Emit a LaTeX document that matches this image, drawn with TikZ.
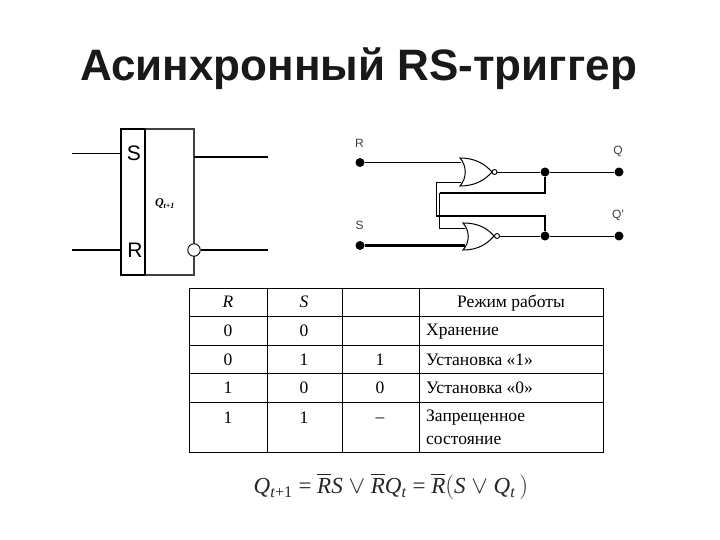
\documentclass[tikz,border=0pt]{standalone}
\usepackage{fontspec}
\setmainfont{Liberation Serif}
\newfontfamily\arialf{Liberation Sans}
\begin{document}
\begin{tikzpicture}[x=1pt,y=-1pt,
  thin line/.style={draw=black,line width=1.3pt},
  hair line/.style={draw=black,line width=0.9pt},
  thick line/.style={draw=black,line width=2.2pt},
  box line/.style={draw=black!75,line width=1.5pt},
  grid line/.style={draw=black,line width=1pt},
  pin/.style={circle,fill=black,inner sep=0pt,minimum size=9pt},
  bubble/.style={circle,draw=black,fill=white,line width=0.9pt,inner sep=0pt},
  title text/.style={font=\arialf\bfseries\fontsize{44}{48}\selectfont,text=black!90,inner sep=0pt},
  sym text/.style={font=\arialf\fontsize{21}{24}\selectfont,inner sep=0pt},
  pin text/.style={font=\arialf\fontsize{12}{14}\selectfont,text=black!75,inner sep=0pt},
  cell/.style={font=\fontsize{17.5}{22}\selectfont,inner sep=0pt},
  cell left/.style={cell,anchor=west},
  gate/.style={draw=black,line width=1pt,fill=white}]
\useasboundingbox (0,0) rectangle (720,540);
\fill[white] (0,0) rectangle (720,540);
\node[title text] (title) at (358.5,69) {Асинхронный RS-триггер};

% block symbol
\coordinate (bTL) at (121,129); \coordinate (bTM) at (145,129); \coordinate (bTR) at (194,129);
\coordinate (bBL) at (121,275); \coordinate (bBM) at (145,275); \coordinate (bBR) at (194,275);
\draw[box line] (bTM) -- (bTR) -- (bBR) -- (bBM);
\draw[thick line] (bBM) -- (bBL) -- (bTL) -- (bTM);
\draw[thin line] (bTM) -- (bBM);
\coordinate (inS) at (72,153.5); \coordinate (inSb) at (121,153.5);
\coordinate (inR) at (72,250); \coordinate (inRb) at (121,250);
\coordinate (outQb) at (194,157); \coordinate (outQ) at (268,157);
\coordinate (outNb) at (268,250);
\draw[thin line] (inS) -- (inSb);
\draw[thin line] (inR) -- (inRb);
\draw[thin line] (outQb) -- (outQ);
\node[bubble,minimum size=12.5pt] (nb) at (194,250) {};
\draw[thin line] (nb) -- (outNb);
\node[sym text] (symS) at (134,153) {S};
\node[sym text] (symR) at (135,250) {R};
\node[font=\bfseries\itshape\fontsize{12}{14}\selectfont,inner sep=0pt] (symQ) at (165,204) {Q\textsubscript{\textit{t}+1}};

% gate circuit
\node[pin] (pR) at (360,162.5) {};
\node[pin] (pS) at (360,245.5) {};
\node[pin] (j1) at (545,172) {};
\node[pin] (j2) at (545,236) {};
\node[pin] (pQ) at (619,172) {};
\node[pin] (pN) at (619,236) {};
\node[pin text] (lR) at (359.5,143) {R};
\node[pin text] (lS) at (359.5,225.5) {S};
\node[pin text] (lQ) at (618,151.5) {Q};
\node[pin text] (lN) at (618,215) {Q'};

\coordinate (g1r) at (461,163); \coordinate (g1s) at (461,182);
\coordinate (g2r) at (465,228); \coordinate (g2s) at (465,245.5);
\coordinate (c1) at (545,193); \coordinate (c2) at (439.5,193); \coordinate (c3) at (439.5,228);
\coordinate (d1) at (436,182); \coordinate (d2) at (436,216); \coordinate (d3) at (545,216);

\draw[hair line] (pR) -- (pR -| g1r);
\draw[thick line] (pS) -- (g2s);
\draw[thick line] (j1) -- (c1) -- (c2);
\draw[hair line] (c2) -- (c3) -- (g2r);
\draw[hair line] (g1s) -- (d1) -- (d2);
\draw[thick line] (d2) -- (d3) -- (j2);

\draw[gate] (460,158) .. controls (467,166) and (467,178) .. (460,186)
  .. controls (475,186) and (485,180) .. (492,172)
  .. controls (485,164) and (475,158) .. (460,158) -- cycle;
\draw[gate] (463,223) .. controls (470,231) and (470,242) .. (463,250)
  .. controls (478,250) and (487,244) .. (494,236)
  .. controls (487,228) and (478,223) .. (463,223) -- cycle;
\node[bubble,minimum size=5pt] (b1) at (494.5,172) {};
\node[bubble,minimum size=5pt] (b2) at (497,236) {};
\draw[hair line] (b1) -- (j1);
\draw[hair line] (j1) -- (pQ);
\draw[hair line] (b2) -- (j2);
\draw[hair line] (j2) -- (pN);

% table
\draw[grid line] (189,288) rectangle (603,452);
\foreach \yy in {316.5,345,373.5,402} \draw[grid line] (189,\yy) -- (603,\yy);
\foreach \xx in {267,342,419} \draw[grid line] (\xx,288) -- (\xx,452);

\node[cell] (h1) at (228,302) {\textit{R}};
\node[cell] (h2) at (304,302) {\textit{S}};
\node[cell] (h4) at (511,303) {Режим работы};
\node[cell] (a1) at (228,331) {0};
\node[cell] (a2) at (304,331) {0};
\node[cell left] (a4) at (426,332) {Хранение};
\node[cell] (b1t) at (228,360) {0};
\node[cell] (b2t) at (304,360) {1};
\node[cell] (b3t) at (380,360) {1};
\node[cell left] (b4t) at (426,360) {Установка «1»};
\node[cell] (c1t) at (228,388) {1};
\node[cell] (c2t) at (304,388) {0};
\node[cell] (c3t) at (380,388) {0};
\node[cell left] (c4t) at (426,388) {Установка «0»};
\node[cell] (d1t) at (228,418) {1};
\node[cell] (d2t) at (304,418) {1};
\node[cell] (d3t) at (380,420) {–};
\node[cell left] (d4t) at (426,418) {Запрещенное};
\node[cell left] (d5t) at (426,440) {состояние};

% formula
\node[font=\fontsize{23}{26}\selectfont,inner sep=0pt,text=black!85] (formula) at (391,487)
 {\textit{Q}\textsubscript{\textit{t}+1} = $\overline{\rule{0pt}{18pt}\mbox{\textit{R}}}$\textit{S} $\vee$ $\overline{\rule{0pt}{18pt}\mbox{\textit{R}}}$\textit{Q}\textsubscript{\textit{t}} = $\overline{\rule{0pt}{18pt}\mbox{\textit{R}}}\bigl($\textit{S} $\vee$ \textit{Q}\textsubscript{\textit{t}}\,$\bigr)$};
\end{tikzpicture}
\end{document}
